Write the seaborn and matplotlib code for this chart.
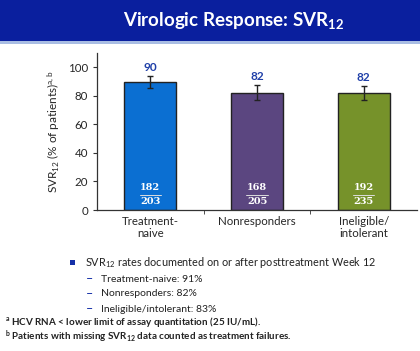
import pandas as pd
import matplotlib.pyplot as plt
import seaborn as sns
from matplotlib.patches import Rectangle

# chart data
groups = ['Treatment-naive', 'Nonresponders', 'Ineligible/intolerant']
tick_labels = ['Treatment-\nnaive', 'Nonresponders', 'Ineligible/\nintolerant']
svr_pct = [89.7, 82.0, 81.7]
pct_labels = ['90', '82', '82']
ci_low = [85.5, 76.8, 76.8]
ci_high = [94.0, 87.5, 86.8]
n_resp = [182, 168, 192]
n_total = [203, 205, 235]
bar_colors = ['#0b6fd2', '#5b4680', '#76922a']

sub_items = ['Treatment-naive: 91%', 'Nonresponders: 82%', 'Ineligible/intolerant: 83%']

sns.set_style('white')
plt.rcParams['font.family'] = ['Lato', 'DejaVu Sans']
plt.rcParams['mathtext.fontset'] = 'custom'
plt.rcParams['mathtext.rm'] = 'Lato'
plt.rcParams['mathtext.bf'] = 'Lato:bold'
plt.rcParams['mathtext.default'] = 'regular'

df = pd.DataFrame({'Group': groups, 'SVR': svr_pct})

fig = plt.figure(figsize=(4.2, 3.51), dpi=100)
ax = fig.add_axes([0.231, 0.4017, 0.762, 0.447])

sns.barplot(data=df, x='Group', y='SVR', hue='Group', palette=bar_colors,
            order=groups, width=0.49, edgecolor='#222222', linewidth=1,
            saturation=1, legend=False, ax=ax)

# error bars
yerr = [[v - lo for v, lo in zip(svr_pct, ci_low)],
        [hi - v for v, hi in zip(svr_pct, ci_high)]]
ax.errorbar(range(len(groups)), svr_pct, yerr=yerr, fmt='none',
            ecolor='#222222', elinewidth=1, capsize=2.5, capthick=1)

for i in range(len(groups)):
    ax.annotate(pct_labels[i], (i, ci_high[i]), xytext=(0, 2), textcoords='offset points',
                ha='center', va='bottom', fontsize=8.5, fontweight='bold', color='#1f3fa8')
    ax.text(i, 15.5, str(n_resp[i]), ha='center', va='center', fontsize=7,
            fontweight='bold', color='white', family='DejaVu Serif')
    ax.plot([i - 0.1, i + 0.1], [10.6, 10.6], color='#dddddd', lw=0.7)
    ax.text(i, 6.2, str(n_total[i]), ha='center', va='center', fontsize=7,
            fontweight='bold', color='white', family='DejaVu Serif')

ax.set_xlim(-0.5, 2.5)
ax.set_ylim(0, 110)
ax.set_yticks([0, 20, 40, 60, 80, 100])
ax.set_xticks(range(len(groups)))
ax.set_xticklabels(tick_labels)
ax.set_xticks([0.5, 1.5], minor=True)
ax.tick_params(axis='x', which='major', length=0, labelsize=8.3, pad=4)
ax.tick_params(axis='x', which='minor', length=3, bottom=True, color='#333333')
ax.tick_params(axis='y', length=3, left=True, labelsize=8.3, color='#333333')
ax.set_xlabel('')
ax.set_ylabel('SVR$_{12}$ (% of patients)$^{a,b}$', fontsize=8.5, labelpad=4)
for side in ['top', 'right']:
    ax.spines[side].set_visible(False)
for side in ['left', 'bottom']:
    ax.spines[side].set_color('#333333')
    ax.spines[side].set_linewidth(0.9)

# title band
fig.patches.append(Rectangle((0, 0.882), 1, 0.118, transform=fig.transFigure,
                             facecolor='#0a1f9e', edgecolor='none', zorder=0))
fig.patches.append(Rectangle((0, 0.874), 1, 0.008, transform=fig.transFigure,
                             facecolor='#a9bde3', edgecolor='none', zorder=0))
fig.text(0.557, 0.942, r'Virologic Response: SVR$_{\mathbf{12}}$', ha='center', va='center',
         fontsize=13.5, fontweight='bold', color='white')

# notes below the chart
fig.patches.append(Rectangle((70 / 420, 1 - 265 / 351), 5 / 420, 5 / 351,
                             transform=fig.transFigure, facecolor='#1530a8', edgecolor='none'))
fig.text(85 / 420, 1 - 262 / 351, 'SVR$_{12}$ rates documented on or after posttreatment Week 12',
         ha='left', va='center', fontsize=7.8, color='#222222')
for k, item in enumerate(sub_items):
    y = 1 - (279 + 15 * k) / 351
    fig.text(86 / 420, y, '\u2013', ha='left', va='center', fontsize=9, color='#1530a8')
    fig.text(101 / 420, y, item, ha='left', va='center', fontsize=7.5, color='#222222')

fig.text(5 / 420, 1 - 322 / 351, '$^{a}$ HCV RNA < lower limit of assay quantitation (25 IU/mL).',
         ha='left', va='center', fontsize=7.1, fontweight='bold', color='#222222')
fig.text(5 / 420, 1 - 337 / 351, r'$^{b}$ Patients with missing SVR$_{\mathbf{12}}$ data counted as treatment failures.',
         ha='left', va='center', fontsize=7.1, fontweight='bold', color='#222222')

fig.savefig('out.png', dpi=100)
